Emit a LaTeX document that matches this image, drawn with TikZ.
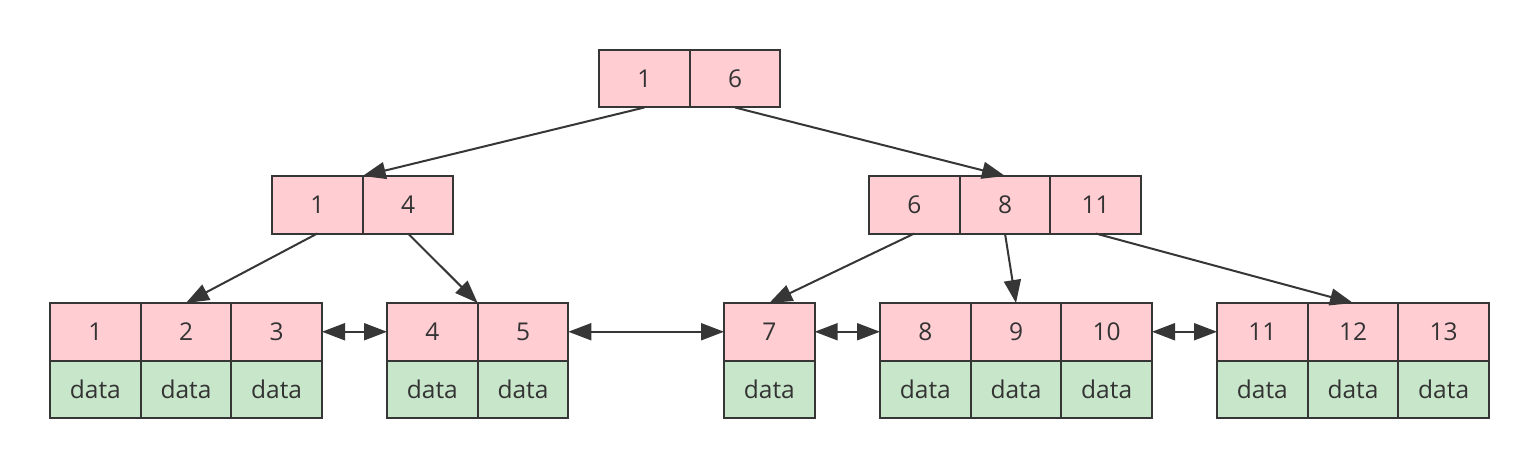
\documentclass[tikz,border=0pt]{standalone}
\usepackage{fontspec}
\setmainfont{Open Sans}
\usetikzlibrary{arrows.meta}
\definecolor{keyfill}{HTML}{FFCDD2}
\definecolor{datafill}{HTML}{C8E6C9}
\definecolor{edge}{HTML}{363636}
\definecolor{txt}{HTML}{333333}
\tikzset{
  cell/.style={draw=edge, line width=2pt, minimum width=90.67pt, minimum height=57.5pt,
    inner sep=0pt, outer sep=0pt, anchor=north west, text=txt,
    font=\fontsize{24.5}{29}\selectfont},
  keycell/.style={cell, fill=keyfill},
  datacell/.style={cell, fill=datafill},
  link/.style={draw=edge, line width=2pt, -{Triangle[length=23pt,width=17pt]}},
  sibling/.style={draw=edge, line width=2pt, {Triangle[length=23pt,width=17pt]}-{Triangle[length=23pt,width=17pt]}}
}
\begin{document}
\begin{tikzpicture}[x=1pt,y=-1pt]
\useasboundingbox[fill=white] (0,0) rectangle (1540,468);
% root
\node[keycell] (r1) at (599,50) {1};
\node[keycell] (r6) at (689.67,50) {6};
% level 2 left
\node[keycell] (a1) at (272,176) {1};
\node[keycell] (a4) at (362.67,176) {4};
% level 2 right
\node[keycell] (b6) at (869,176) {6};
\node[keycell] (b8) at (959.67,176) {8};
\node[keycell] (b11) at (1050.33,176) {11};
% leaf 1
\node[keycell] (k1) at (50,303) {1};
\node[keycell] (k2) at (140.67,303) {2};
\node[keycell] (k3) at (231.33,303) {3};
\node[datacell] (d1) at (50,360.5) {data};
\node[datacell] (d2) at (140.67,360.5) {data};
\node[datacell] (d3) at (231.33,360.5) {data};
% leaf 2
\node[keycell] (k4) at (387,303) {4};
\node[keycell] (k5) at (477.67,303) {5};
\node[datacell] (d4) at (387,360.5) {data};
\node[datacell] (d5) at (477.67,360.5) {data};
% leaf 3
\node[keycell] (k7) at (724,303) {7};
\node[datacell] (d7) at (724,360.5) {data};
% leaf 4
\node[keycell] (k8) at (880,303) {8};
\node[keycell] (k9) at (970.67,303) {9};
\node[keycell] (k10) at (1061.33,303) {10};
\node[datacell] (d8) at (880,360.5) {data};
\node[datacell] (d9) at (970.67,360.5) {data};
\node[datacell] (d10) at (1061.33,360.5) {data};
% leaf 5
\node[keycell] (k11) at (1217,303) {11};
\node[keycell] (k12) at (1307.67,303) {12};
\node[keycell] (k13) at (1398.33,303) {13};
\node[datacell] (d11) at (1217,360.5) {data};
\node[datacell] (d12) at (1307.67,360.5) {data};
\node[datacell] (d13) at (1398.33,360.5) {data};
% tree links
\draw[link] (r1.south) -- (a1.north east);
\draw[link] (r6.south) -- (b8.north);
\draw[link] (a1.south) -- (k2.north);
\draw[link] (a4.south) -- (k4.north east);
\draw[link] (b6.south) -- (k7.north);
\draw[link] (b8.south) -- (k9.north);
\draw[link] (b11.south) -- (k12.north);
% sibling links
\draw[sibling] (k3.east) -- (k4.west);
\draw[sibling] (k5.east) -- (k7.west);
\draw[sibling] (k7.east) -- (k8.west);
\draw[sibling] (k10.east) -- (k11.west);
\end{tikzpicture}
\end{document}
